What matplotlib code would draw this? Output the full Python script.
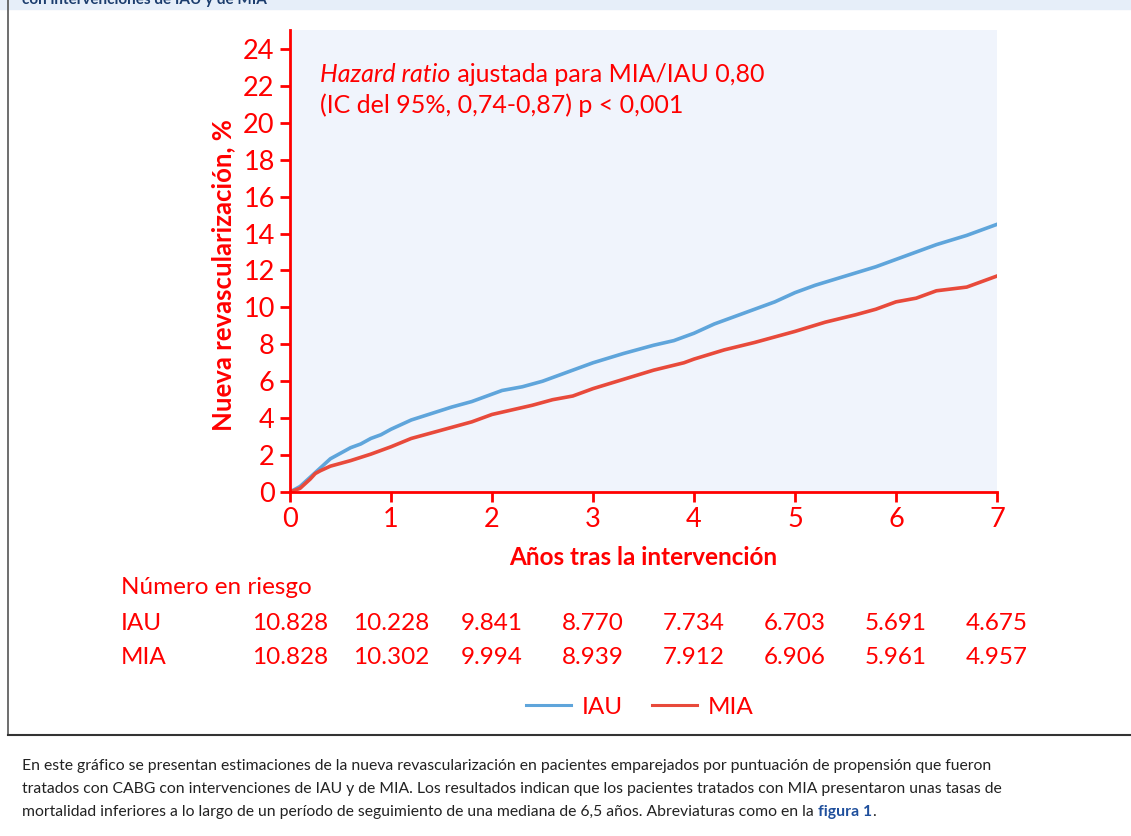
import numpy as np
import matplotlib.pyplot as plt
from matplotlib.lines import Line2D

# curvas
anos_iau = [0, 0.1, 0.2, 0.3, 0.4, 0.5, 0.6, 0.7, 0.8, 0.9, 1.0, 1.2, 1.4, 1.6, 1.8,
            2.0, 2.1, 2.3, 2.5, 2.7, 3.0, 3.3, 3.6, 3.8, 4.0, 4.2, 4.5, 4.8, 5.0,
            5.2, 5.5, 5.8, 6.0, 6.2, 6.4, 6.7, 7.0]
revasc_iau = [0, 0.3, 0.8, 1.3, 1.8, 2.1, 2.4, 2.6, 2.9, 3.1, 3.4, 3.9, 4.25, 4.6, 4.9,
              5.3, 5.5, 5.7, 6.0, 6.4, 7.0, 7.5, 7.95, 8.2, 8.6, 9.1, 9.7, 10.3, 10.8,
              11.2, 11.7, 12.2, 12.6, 13.0, 13.4, 13.9, 14.5]

anos_mia = [0, 0.1, 0.2, 0.25, 0.3, 0.4, 0.5, 0.6, 0.8, 1.0, 1.2, 1.4, 1.6, 1.8,
            2.0, 2.2, 2.4, 2.6, 2.8, 3.0, 3.3, 3.6, 3.9, 4.0, 4.3, 4.6, 4.8, 5.0,
            5.3, 5.6, 5.8, 6.0, 6.2, 6.4, 6.7, 7.0]
revasc_mia = [0, 0.2, 0.7, 1.0, 1.15, 1.4, 1.55, 1.7, 2.05, 2.45, 2.9, 3.2, 3.5, 3.8,
              4.2, 4.45, 4.7, 5.0, 5.2, 5.6, 6.1, 6.6, 7.0, 7.2, 7.7, 8.1, 8.4, 8.7,
              9.2, 9.6, 9.9, 10.3, 10.5, 10.9, 11.1, 11.7]

anos_riesgo = [0, 1, 2, 3, 4, 5, 6, 7]
riesgo_iau = ["10.828", "10.228", "9.841", "8.770", "7.734", "6.703", "5.691", "4.675"]
riesgo_mia = ["10.828", "10.302", "9.994", "8.939", "7.912", "6.906", "5.961", "4.957"]

rojo = '#ff0000'
azul = '#5fa5db'
rojo_linea = '#e84a3b'

plt.rcParams['font.family'] = ['Lato', 'DejaVu Sans']

fig = plt.figure(figsize=(11.31, 8.36), dpi=100)
W, H = 1131, 836

# marco y cabecera (texto cortado arriba, como en el original)
fig.patches.append(plt.Rectangle((0, 1 - 9 / H), 1, 9 / H, transform=fig.transFigure,
                                 color='#e6eef9', zorder=0))
fig.text(22 / W, 1 - 4 / H, "con intervenciones de IAU y de MIA", fontsize=11,
         fontweight='bold', color='#1c3d6e', va='baseline')
fig.lines.append(Line2D([8 / W, 8 / W], [1 - 735 / H, 1], transform=fig.transFigure,
                        color='#555555', lw=1.2))
fig.lines.append(Line2D([8 / W, 1], [1 - 735 / H, 1 - 735 / H], transform=fig.transFigure,
                        color='#333333', lw=1.5))

ax = fig.add_axes([290 / W, 1 - 492 / H, 707 / W, 461.5 / H])
ax.set_facecolor('#f0f4fc')
ax.plot(anos_iau, revasc_iau, color=azul, lw=2.6, label='IAU')
ax.plot(anos_mia, revasc_mia, color=rojo_linea, lw=2.6, label='MIA')

ax.set_xlim(0, 7)
ax.set_ylim(0, 25)
ax.set_xticks(range(0, 8))
ax.set_yticks(range(0, 25, 2))
for lado in ['top', 'right']:
    ax.spines[lado].set_visible(False)
for lado in ['left', 'bottom']:
    ax.spines[lado].set_color(rojo)
    ax.spines[lado].set_linewidth(2)
ax.tick_params(colors=rojo, labelsize=19.5, width=2, length=7, pad=4)
ax.set_xlabel("Años tras la intervención", fontsize=17.5, fontweight='bold', color=rojo, labelpad=10)
ax.set_ylabel("Nueva revascularización, %", fontsize=18.5, fontweight='bold', color=rojo, labelpad=4)
ax.yaxis.set_label_coords(-0.078, 0.47)

fs_hr = 18
t = ax.text(0.3, 22.2, "Hazard ratio", fontsize=fs_hr, color=rojo, va='baseline', style='italic')
fig.canvas.draw()
r = fig.canvas.get_renderer()
bb = t.get_window_extent(r)
x_fin = ax.transData.inverted().transform((bb.x1, bb.y0))[0]
ax.text(x_fin, 22.2, " ajustada para MIA/IAU 0,80", fontsize=fs_hr, color=rojo, va='baseline')
ax.text(0.3, 20.55, "(IC del 95%, 0,74-0,87) p < 0,001", fontsize=fs_hr, color=rojo, va='baseline')

# número en riesgo
fs_r = 17.5
fig.text(121 / W, 1 - 588 / H, "Número en riesgo", fontsize=fs_r, color=rojo, va='center')
fig.text(121 / W, 1 - 623 / H, "IAU", fontsize=fs_r, color=rojo, va='center')
fig.text(121 / W, 1 - 657 / H, "MIA", fontsize=fs_r, color=rojo, va='center')
for xv, a, b in zip(anos_riesgo, riesgo_iau, riesgo_mia):
    xf = fig.transFigure.inverted().transform(ax.transData.transform((xv, 0)))[0]
    fig.text(xf, 1 - 623 / H, a, fontsize=fs_r, color=rojo, ha='center', va='center')
    fig.text(xf, 1 - 657 / H, b, fontsize=fs_r, color=rojo, ha='center', va='center')

leg = fig.legend(loc='center', bbox_to_anchor=(640 / W, 1 - 707 / H), ncol=2, frameon=False,
                 fontsize=fs_r, handlelength=1.85, columnspacing=1.2, handletextpad=0.45)
for txt in leg.get_texts():
    txt.set_color(rojo)
for ln in leg.get_lines():
    ln.set_linewidth(2.2)

# pie de figura
pie = ["En este gráfico se presentan estimaciones de la nueva revascularización en pacientes emparejados por puntuación de propensión que fueron",
       "tratados con CABG con intervenciones de IAU y de MIA. Los resultados indican que los pacientes tratados con MIA presentaron unas tasas de",
       "mortalidad inferiores a lo largo de un período de seguimiento de una mediana de 6,5 años. Abreviaturas como en la "]
ys = [766, 789, 812]
for linea, yy in zip(pie, ys):
    tt = fig.text(22 / W, 1 - yy / H, linea, fontsize=11.3, color='#222222', va='center')
fig.canvas.draw()
bb = tt.get_window_extent(fig.canvas.get_renderer())
t2 = fig.text(bb.x1 / W, 1 - 812 / H, "figura 1", fontsize=11.3, color='#1f4f9c',
              fontweight='bold', va='center')
fig.canvas.draw()
bb2 = t2.get_window_extent(fig.canvas.get_renderer())
fig.text(bb2.x1 / W, 1 - 812 / H, ".", fontsize=11.3, color='#222222', va='center')

fig.savefig('out.png', dpi=100)
